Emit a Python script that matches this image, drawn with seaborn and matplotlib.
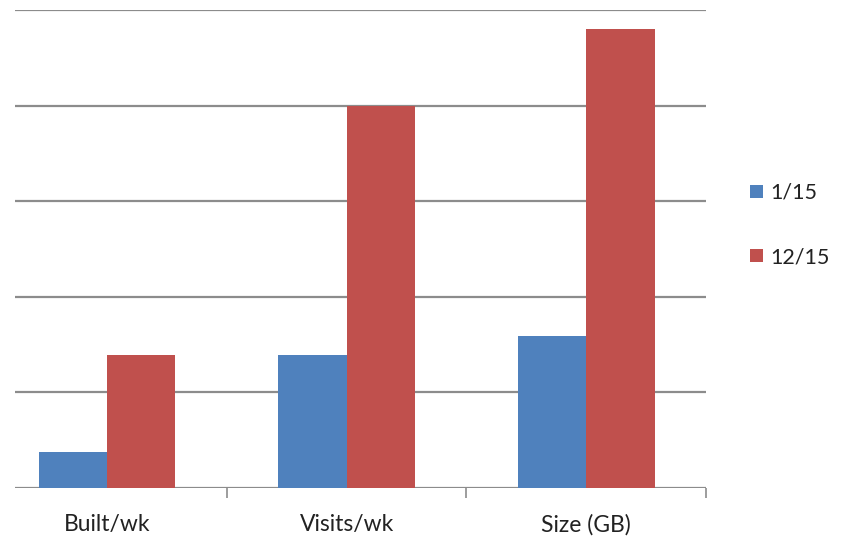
import matplotlib
matplotlib.use("Agg")
import matplotlib.pyplot as plt
import seaborn as sns
import pandas as pd

categories = ["Built/wk", "Visits/wk", "Size (GB)"]
series_names = ["1/15", "12/15"]
values_jan = [0.38, 1.39, 1.59]
values_dec = [1.39, 4.0, 4.8]
colors = ["#4F81BD", "#C0504D"]

df = pd.DataFrame({
    "category": categories * 2,
    "period": [series_names[0]] * 3 + [series_names[1]] * 3,
    "value": values_jan + values_dec,
})

sns.set_theme(style="white")
plt.rcParams["font.family"] = ["Lato", "DejaVu Sans"]

W, H = 856, 546
fig = plt.figure(figsize=(W / 100, H / 100), dpi=100)
left, right, top, bottom = 15, 706, 10, 488
ax = fig.add_axes([left / W, 1 - bottom / H, (right - left) / W, (bottom - top) / H])

sns.barplot(data=df, x="category", y="value", hue="period", palette=colors,
            width=0.57, saturation=1, ax=ax, order=categories, hue_order=series_names,
            linewidth=0, edgecolor="none")

ax.set_xlim(-0.385, 2.5)
ax.set_ylim(0, 5)
ax.set_yticks([0, 1, 2, 3, 4, 5])
ax.yaxis.grid(True, color="#8c8c8c", linewidth=1.6)
ax.set_axisbelow(True)
ax.tick_params(axis="y", left=False, labelleft=False)
for s in ax.spines.values():
    s.set_visible(False)
ax.set_xlabel("")
ax.set_ylabel("")

ax.set_xticks([0, 1, 2])
ax.set_xticklabels(categories, fontsize=16.5, color="#222222")
ax.set_xticks([0.5, 1.5, 2.5], minor=True)
ax.tick_params(axis="x", which="major", length=0, pad=19)
ax.tick_params(axis="x", which="minor", bottom=True, length=7, width=1.2, color="#8c8c8c", direction="out")

handles, labels = ax.get_legend_handles_labels()
ax.get_legend().remove()
fig.legend(handles, labels, loc="upper left", bbox_to_anchor=(750 / W, 1 - 183 / H),
           frameon=False, fontsize=15.5, handlelength=0.6, handleheight=0.6,
           handletextpad=0.35, labelspacing=2.05, borderaxespad=0, borderpad=0,
           labelcolor="#222222")

fig.savefig("out.png", dpi=100)
